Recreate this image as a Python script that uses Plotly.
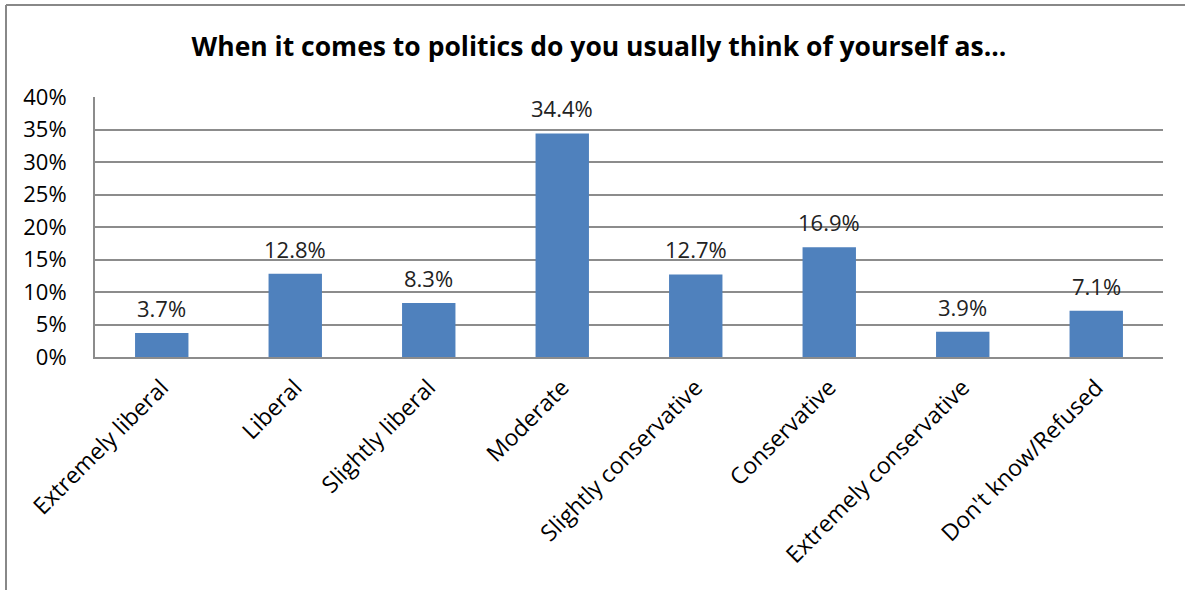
import plotly.graph_objects as go

categories = ["Extremely liberal", "Liberal", "Slightly liberal", "Moderate",
              "Slightly conservative", "Conservative", "Extremely conservative",
              "Don't know/Refused"]
values = [3.7, 12.8, 8.3, 34.4, 12.7, 16.9, 3.9, 7.1]
labels = [f"{v:.1f}%" for v in values]
tick_vals = [0, 5, 10, 15, 20, 25, 30, 35, 40]
tick_text = [f"{t}%" for t in tick_vals]

FONT = "Open Sans"
L, R, T, B = 95, 22, 97, 233
W, H = 1185, 590
pw, ph = W - L - R, H - T - B

fig = go.Figure(go.Bar(
    x=categories, y=values,
    marker=dict(color="#4F81BD", line=dict(width=0)),
    hoverinfo="skip",
))

def px2x(px):
    return (px - L) / pw

def py2y(py):
    return (H - B - py) / ph

annotations = [
    dict(x=c, y=v, xref="x", yref="y", text=t, showarrow=False,
         xanchor="center", yanchor="bottom", yshift=8,
         font=dict(family=FONT, size=22, color="#222222"))
    for c, v, t in zip(categories, values, labels)
]

fig.update_layout(
    width=W, height=H,
    margin=dict(l=L, r=R, t=T, b=B),
    paper_bgcolor="white", plot_bgcolor="white",
    bargap=0.6,
    showlegend=False,
    annotations=annotations,
    title=dict(text="<b>When it comes to politics do you usually think of yourself as...</b>",
               x=599 / W, xanchor="center", y=1 - 47 / H, yanchor="middle",
               font=dict(family=FONT, size=26.5, color="black")),
    xaxis=dict(tickangle=-45, tickfont=dict(family=FONT, size=23, color="black"),
               showline=True, linecolor="#8c8c8c", linewidth=2, ticks="",
               showgrid=False, ticklabelstandoff=6),
    yaxis=dict(range=[0, 40], tickvals=tick_vals, ticktext=tick_text,
               tickfont=dict(family=FONT, size=22, color="black"),
               showgrid=True, gridcolor="#8c8c8c", gridwidth=2,
               showline=True, linecolor="#8c8c8c", linewidth=2,
               zeroline=False, ticks="", ticklen=0, ticklabelstandoff=22),
    shapes=[
        dict(type="line", xref="paper", yref="paper", x0=px2x(6), x1=px2x(1185),
             y0=py2y(5), y1=py2y(5), line=dict(color="#888888", width=2)),
        dict(type="line", xref="paper", yref="paper", x0=px2x(6), x1=px2x(6),
             y0=py2y(5), y1=py2y(600), line=dict(color="#888888", width=2)),
    ],
)

fig.write_html("out.html", config={"displayModeBar": False},
               post_script="document.body.style.margin='0';document.body.style.overflow='hidden';")
